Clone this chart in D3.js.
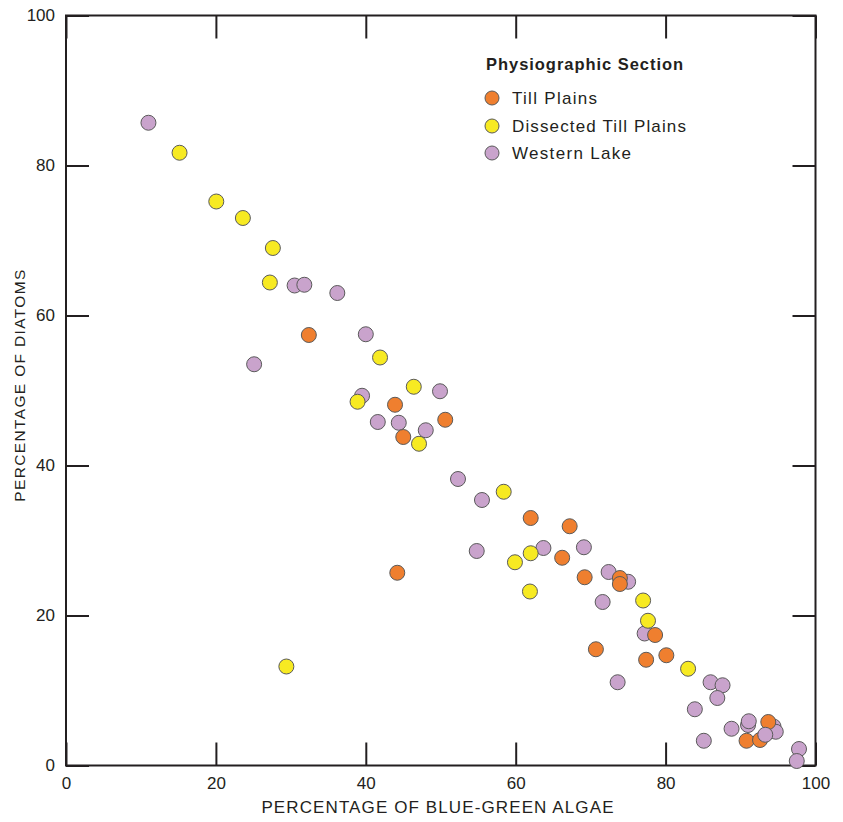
<!DOCTYPE html>
<html><head><meta charset="utf-8">
<script src="https://cdn.jsdelivr.net/npm/d3@7"></script>
<style>body{margin:0;background:#fff}svg{display:block}text{font-family:"Liberation Sans",Arial,sans-serif;fill:#231f20}</style>
</head><body><svg id="c" width="843" height="822"></svg>
<script>
const tickValues = [0, 20, 40, 60, 80, 100];
const seriesNames = ["Till Plains", "Dissected Till Plains", "Western Lake"];
const seriesColors = ["#ef7f2f", "#f7ea22", "#c9a3cc"];
const westernLake = [[11.0,85.7],[30.5,64.0],[31.8,64.1],[36.2,63.0],[40.0,57.5],[25.1,53.5],[49.9,49.9],[39.5,49.3],[41.6,45.8],[44.4,45.7],[48.0,44.7],[52.3,38.2],[55.5,35.4],[54.8,28.6],[63.7,29.0],[69.1,29.1],[72.4,25.8],[75.0,24.5],[71.6,21.8],[77.2,17.6],[73.6,11.1],[86.0,11.1],[87.6,10.7],[86.9,9.0],[83.9,7.5],[88.8,4.9],[91.0,5.4],[91.1,5.9],[94.4,5.2],[94.7,4.5],[85.1,3.3],[97.8,2.2],[97.5,0.6]];
const tillPlains = [[32.4,57.4],[43.9,48.1],[50.6,46.1],[45.0,43.8],[44.2,25.7],[62.0,33.0],[67.2,31.9],[66.2,27.7],[69.2,25.1],[73.9,25.0],[73.9,24.2],[78.6,17.4],[70.7,15.5],[77.4,14.1],[80.1,14.7],[93.7,5.8],[90.8,3.3],[92.6,3.4]];
const westernLakeTop = [[93.3,4.1]];
const dissectedTillPlains = [[15.15,81.7],[20.05,75.2],[23.6,73.0],[27.6,69.0],[27.2,64.4],[41.9,54.4],[46.4,50.5],[38.9,48.5],[47.1,42.9],[58.4,36.5],[62.0,28.3],[59.9,27.1],[61.9,23.2],[77.0,22.0],[77.65,19.3],[83.0,12.9],[29.4,13.2]];

const svg = d3.select("#c");
const x = d3.scaleLinear().domain([0,100]).range([66,815.5]);
const y = d3.scaleLinear().domain([0,100]).range([765.5,15.5]);
const T = 23;

function styleAxis(g){ g.select(".domain").remove(); g.selectAll("line").attr("stroke","#231f20").attr("stroke-width",2); g.selectAll("text").attr("font-size",17).attr("fill","#231f20").style("font-family","'Liberation Sans',Arial,sans-serif"); }
svg.append("g").attr("transform","translate(0,765.5)").call(d3.axisBottom(x).tickValues(tickValues).tickSizeInner(-T).tickSizeOuter(0).tickPadding(11)).call(styleAxis);
svg.append("g").attr("transform","translate(66,0)").call(d3.axisLeft(y).tickValues(tickValues).tickSizeInner(-T).tickSizeOuter(0).tickPadding(11)).call(styleAxis);
svg.append("g").attr("transform","translate(0,15.5)").call(d3.axisTop(x).tickValues(tickValues).tickSizeInner(-T).tickSizeOuter(0).tickFormat("")).call(styleAxis);
svg.append("g").attr("transform","translate(815.5,0)").call(d3.axisRight(y).tickValues(tickValues).tickSizeInner(-T).tickSizeOuter(0).tickFormat("")).call(styleAxis);
svg.append("rect").attr("x",x(0)).attr("y",y(100)).attr("width",x(100)-x(0)).attr("height",y(0)-y(100)).attr("fill","none").attr("stroke","#231f20").attr("stroke-width",2);

function pts(data,color){
  svg.append("g").selectAll("circle").data(data).join("circle")
    .attr("cx",d=>x(d[0])).attr("cy",d=>y(d[1])).attr("r",7.5)
    .attr("fill",color).attr("stroke","#5a5a5a").attr("stroke-width",1);
}
pts(westernLake, seriesColors[2]);
pts(tillPlains, seriesColors[0]);
pts(westernLakeTop, seriesColors[2]);
pts(dissectedTillPlains, seriesColors[1]);

// stretch text to the reference's wide tracking
function fit(sel, target){
  const node = sel.node();
  const n = node.textContent.length;
  const len = node.getComputedTextLength();
  sel.attr("letter-spacing", Math.max(0, (target - len) / (n - 1)).toFixed(2));
}

fit(svg.append("text").attr("x",438).attr("y",813).attr("text-anchor","middle").attr("font-size",17).text("PERCENTAGE OF BLUE-GREEN ALGAE"), 352);
fit(svg.append("text").attr("transform","translate(25,385) rotate(-90)").attr("text-anchor","middle").attr("font-size",15.5).text("PERCENTAGE OF DIATOMS"), 232);

const lg = svg.append("g");
fit(lg.append("text").attr("x",486).attr("y",70).attr("font-size",16.5).attr("font-weight","bold").text("Physiographic Section"), 197);
const legendWidths = [85, 174, 119];
seriesNames.forEach((n,i)=>{
  const cy = [98,126,153][i];
  lg.append("circle").attr("cx",492).attr("cy",cy).attr("r",7).attr("fill",seriesColors[i]).attr("stroke","#5a5a5a").attr("stroke-width",1);
  fit(lg.append("text").attr("x",512).attr("y",cy+6).attr("font-size",17).text(n), legendWidths[i]);
});
</script></body></html>
